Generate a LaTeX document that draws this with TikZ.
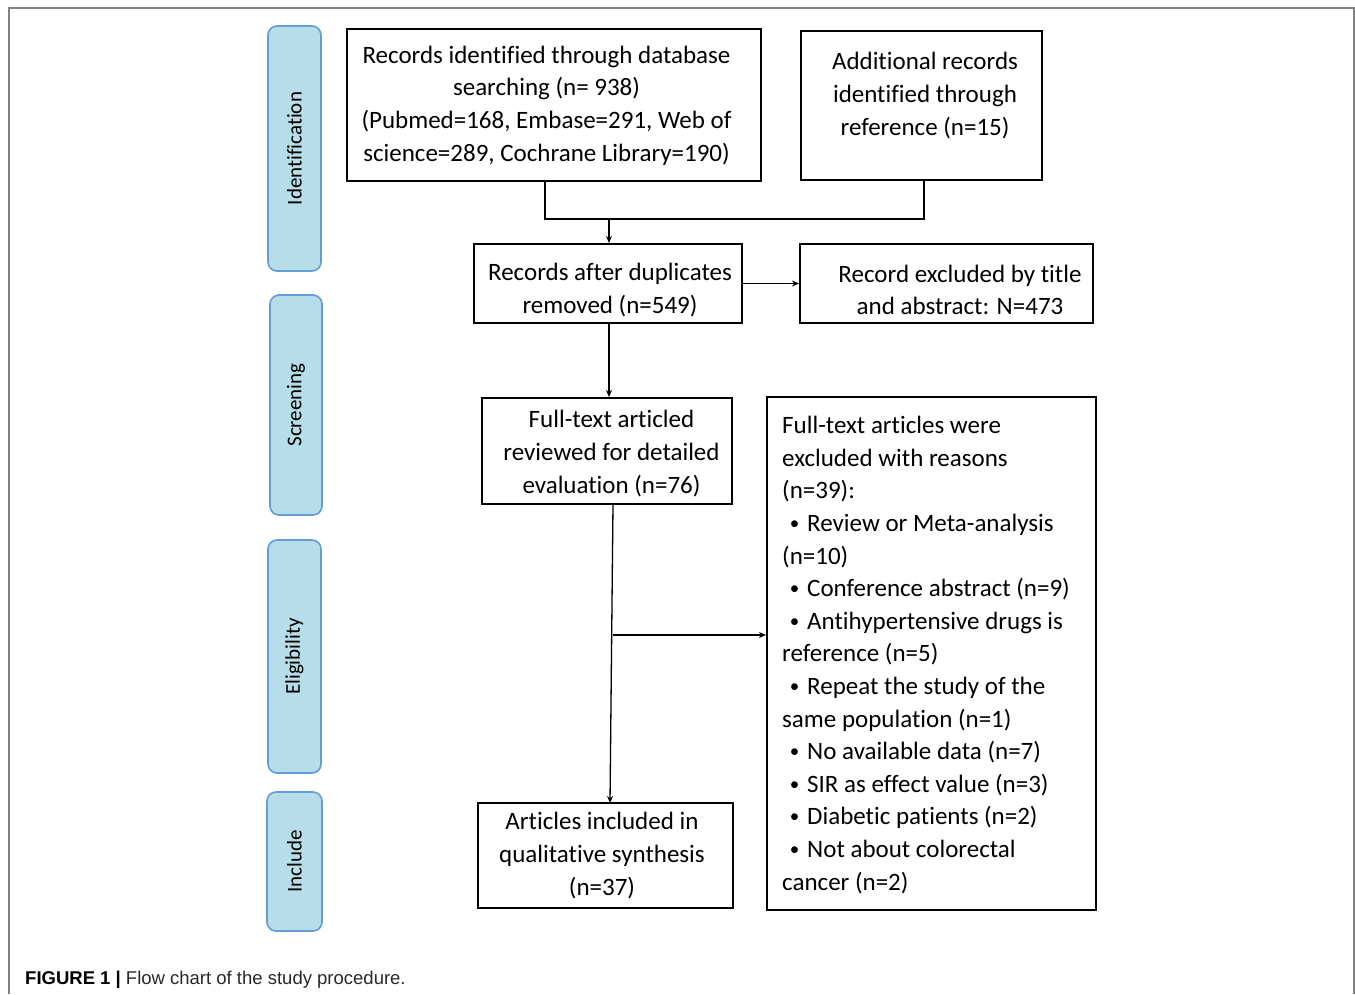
\documentclass[tikz,border=0pt]{standalone}
\usepackage{fontspec}
\setmainfont{Carlito}[Ligatures=NoCommon]
\newfontfamily\capfont{Liberation Sans}
\usetikzlibrary{arrows.meta}
\definecolor{sidefill}{RGB}{182,221,232}
\definecolor{sideline}{RGB}{98,157,216}
\definecolor{framegray}{RGB}{130,130,130}
\definecolor{capgray}{RGB}{40,40,40}
\newcommand{\bul}{\makebox[25pt][c]{\raisebox{2.2pt}{\fontsize{19}{20}\selectfont •}}}
\tikzset{
  box/.style={draw=black, line width=2pt, inner sep=0pt},
  sidebox/.style={draw=sideline, fill=sidefill, line width=1.6pt, rounded corners=9pt, inner sep=0pt},
  boxtext/.style={font=\fontsize{25}{32.6}\selectfont, align=center, inner sep=0pt},
  sidetext/.style={font=\fontsize{21}{25}\selectfont, rotate=90, inner sep=0pt},
  conn/.style={draw=black, line width=1.3pt},
  arr/.style={conn, -{Stealth[length=7pt,width=6pt]}}
}
\begin{document}
\begin{tikzpicture}[x=1pt,y=-1pt]
\useasboundingbox (0,0) rectangle (1355,994);
% outer frame
\draw[framegray, line width=1.3pt] (9,994) -- (9,8) -- (1354,8) -- (1354,994);
% side stage boxes
\node[sidebox, minimum width=53pt, minimum height=245pt] (s1) at (294.5,148.5) {};
\node[sidebox, minimum width=52pt, minimum height=220pt] (s2) at (296,405) {};
\node[sidebox, minimum width=53pt, minimum height=233pt] (s3) at (294.5,656.5) {};
\node[sidebox, minimum width=55pt, minimum height=139pt] (s4) at (294.5,861.5) {};
\node[sidetext] (s1t) at (s1.center) {Identification};
\node[sidetext] (s2t) at (s2.center) {Screening};
\node[sidetext] (s3t) at (s3.center) {Eligibility};
\node[sidetext] (s4t) at (s4.center) {Include};
% boxes
\node[box, minimum width=414pt, minimum height=152pt] (b1) at (554,105) {};
\node[box, minimum width=241pt, minimum height=149pt] (b2) at (921.5,105.5) {};
\node[box, minimum width=268pt, minimum height=79pt] (b3) at (608,283.5) {};
\node[box, minimum width=293pt, minimum height=79pt] (b4) at (946.5,283.5) {};
\node[box, minimum width=250pt, minimum height=106pt] (b5) at (607,451) {};
\node[box, minimum width=329pt, minimum height=513pt] (b6) at (931.5,653.5) {};
\node[box, minimum width=255pt, minimum height=105pt] (b7) at (605.5,855.5) {};
% texts
\node[boxtext] (t1) at (546.5,105.5) {Records identified through database\\searching (n= 938)\\(Pubmed=168, Embase=291, Web of\\science=289, Cochrane Library=190)};
\node[boxtext] (t2) at (925,95.5) {Additional records\\identified through\\reference (n=15)};
\node[boxtext] (t3) at (610,290) {Records after duplicates\\removed (n=549)};
\node[boxtext] (t4) at (960,290) {Record excluded by title\\and abstract: N=473};
\node[boxtext] (t5) at (611.5,453.5) {Full-text articled\\reviewed for detailed\\evaluation (n=76)};
\node[boxtext, align=left, anchor=west] (t6) at (782,655) {Full-text articles were\\excluded with reasons\\(n=39):\\
\bul Review or Meta-analysis\\(n=10)\\
\bul Conference abstract (n=9)\\
\bul Antihypertensive drugs is\\reference (n=5)\\
\bul Repeat the study of the\\same population (n=1)\\
\bul No available data (n=7)\\
\bul SIR as effect value (n=3)\\
\bul Diabetic patients (n=2)\\
\bul Not about colorectal\\cancer (n=2)};
\node[boxtext] (t7) at (602,855.5) {Articles included in\\qualitative synthesis\\(n=37)};
% connectors
\coordinate (j1) at (545,219);
\coordinate (j2) at (924,219);
\coordinate (jm) at (609,219);
\coordinate (jb) at (613,635);
\draw[conn] (j1 |- b1.south) -- (j1) -- (j2) -- (j2 |- b2.south);
\draw[arr] (jm) -- (jm |- b3.north);
\draw[arr] (b3.east) -- (b4.west);
\draw[arr] (jm |- b3.south) -- (jm |- b5.north);
\coordinate (c5) at (613,504);
\coordinate (c7) at (610,803);
\draw[arr] (c5) -- (c7);
\draw[arr] (jb) -- (jb -| b6.west);
% caption
\node[anchor=base west, inner sep=0pt, font=\capfont\fontsize{18.5}{22}\selectfont] (cap) at (25,984) {\textbf{FIGURE 1 |} \textcolor{capgray}{Flow chart of the study procedure.}};
\end{tikzpicture}
\end{document}
